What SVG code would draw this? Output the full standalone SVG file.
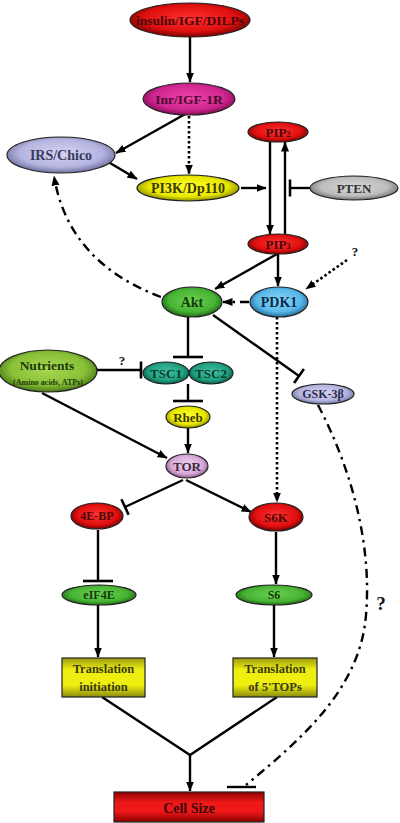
<svg xmlns="http://www.w3.org/2000/svg" width="400" height="823" viewBox="0 0 400 823">
<style>
text{font-family:"Liberation Serif","Times New Roman",serif;font-weight:bold;text-anchor:middle;dominant-baseline:central}
.n{stroke:#222;stroke-width:1.2}
.c{fill:none;stroke:#000;stroke-width:2.4}
.dot{stroke-dasharray:2.6 2.4;stroke-width:2.6}
.dd{stroke-dasharray:9 5 2.5 5}
.q{font-size:13px;fill:#111}
</style>
<defs>
<radialGradient id="gRed" cx="50%" cy="45%" r="55%"><stop offset="0" stop-color="#ff3030"/><stop offset="0.7" stop-color="#e01010"/><stop offset="1" stop-color="#7a0000"/></radialGradient>
<radialGradient id="gMag" cx="50%" cy="45%" r="55%"><stop offset="0" stop-color="#ee40a8"/><stop offset="0.7" stop-color="#d02890"/><stop offset="1" stop-color="#8a0a58"/></radialGradient>
<radialGradient id="gLav" cx="50%" cy="45%" r="55%"><stop offset="0" stop-color="#d4d4f2"/><stop offset="0.7" stop-color="#b4b4e0"/><stop offset="1" stop-color="#7070a0"/></radialGradient>
<radialGradient id="gYel" cx="50%" cy="45%" r="55%"><stop offset="0" stop-color="#ffff30"/><stop offset="0.7" stop-color="#e8e800"/><stop offset="1" stop-color="#8a8a00"/></radialGradient>
<radialGradient id="gGry" cx="50%" cy="45%" r="55%"><stop offset="0" stop-color="#d8d8d8"/><stop offset="0.7" stop-color="#bcbcbc"/><stop offset="1" stop-color="#707070"/></radialGradient>
<radialGradient id="gGrn" cx="50%" cy="45%" r="55%"><stop offset="0" stop-color="#6ad050"/><stop offset="0.7" stop-color="#48b434"/><stop offset="1" stop-color="#1e6a14"/></radialGradient>
<radialGradient id="gLg" cx="50%" cy="45%" r="55%"><stop offset="0" stop-color="#a8d850"/><stop offset="0.7" stop-color="#88c038"/><stop offset="1" stop-color="#4a7a18"/></radialGradient>
<radialGradient id="gBlu" cx="50%" cy="45%" r="55%"><stop offset="0" stop-color="#8ad8f8"/><stop offset="0.7" stop-color="#58b8e8"/><stop offset="1" stop-color="#206a9a"/></radialGradient>
<radialGradient id="gTeal" cx="50%" cy="45%" r="55%"><stop offset="0" stop-color="#40c0a0"/><stop offset="0.7" stop-color="#20a080"/><stop offset="1" stop-color="#085a44"/></radialGradient>
<radialGradient id="gPink" cx="50%" cy="45%" r="55%"><stop offset="0" stop-color="#f0d0f0"/><stop offset="0.7" stop-color="#d8a8d8"/><stop offset="1" stop-color="#8a5a8a"/></radialGradient>
<linearGradient id="bYel" x1="0" y1="0" x2="0" y2="1"><stop offset="0" stop-color="#9a9a10"/><stop offset="0.3" stop-color="#eeee10"/><stop offset="0.7" stop-color="#eeee10"/><stop offset="1" stop-color="#8a8a10"/></linearGradient>
<linearGradient id="bRed" x1="0" y1="0" x2="0" y2="1"><stop offset="0" stop-color="#900000"/><stop offset="0.35" stop-color="#ee1818"/><stop offset="0.65" stop-color="#ee1818"/><stop offset="1" stop-color="#8a0000"/></linearGradient>
<marker id="arr" markerUnits="userSpaceOnUse" markerWidth="10" markerHeight="9" viewBox="0 0 10 9" refX="9.5" refY="4.5" orient="auto"><path d="M0,0.5 L10,4.5 L0,8.5 z" fill="#000"/></marker>
<marker id="barL" markerUnits="userSpaceOnUse" markerWidth="4" markerHeight="32" viewBox="-2 -16 4 32" refX="0" refY="0" orient="auto"><path d="M0,-15 L0,15" stroke="#000" stroke-width="2.6"/></marker>
<marker id="barS" markerUnits="userSpaceOnUse" markerWidth="4" markerHeight="20" viewBox="-2 -10 4 20" refX="0" refY="0" orient="auto"><path d="M0,-8.5 L0,8.5" stroke="#000" stroke-width="2.6"/></marker>
</defs>

<g id="connectors">
<path class="c" d="M190,37 L190,82" marker-end="url(#arr)"/>
<path class="c" d="M187,113 L116,153" marker-end="url(#arr)"/>
<path class="c dot" d="M189,116 L189,174" marker-end="url(#arr)"/>
<path class="c" d="M110,163 L137,179" marker-end="url(#arr)"/>
<path class="c" d="M241,188 L266,188" marker-end="url(#arr)"/>
<path class="c" d="M270,142 L270,234" marker-end="url(#arr)"/>
<path class="c" d="M285,234 L285,142" marker-end="url(#arr)"/>
<path class="c" d="M310,188 L290,188" marker-end="url(#barS)"/>
<path class="c" d="M277,254 L215,289" marker-end="url(#arr)"/>
<path class="c" d="M278,254 L278,286" marker-end="url(#arr)"/>
<path class="c dot" d="M347,260 L306,289" marker-end="url(#arr)"/>
<path class="c dd" d="M249,302 L223,302" marker-end="url(#arr)"/>
<path class="c dd" d="M161,297 Q 68,262 54,176" marker-end="url(#arr)"/>
<path class="c" d="M188,317 L188,357" marker-end="url(#barL)"/>
<path class="c" d="M213,315 L299,376" marker-end="url(#barS)"/>
<path class="c" d="M97,370 L141,370" marker-end="url(#barS)"/>
<path class="c" d="M42,393 L167,458" marker-end="url(#arr)"/>
<path class="c" d="M188,384 L188,401" marker-end="url(#barL)"/>
<path class="c" d="M188,428 L188,453" marker-end="url(#arr)"/>
<path class="c" d="M183,480 L125,507" marker-end="url(#barS)"/>
<path class="c" d="M186,480 L251,512" marker-end="url(#arr)"/>
<path class="c dot" d="M277,317 L277,502" marker-end="url(#arr)"/>
<path class="c dd" d="M318,405 C 352,470 372,545 366,615 C 360,690 300,740 246,785"/>
<path class="c" d="M227,787 L256,787"/>
<path class="c" d="M98,530 L98,581" marker-end="url(#barL)"/>
<path class="c" d="M276,532 L276,584" marker-end="url(#arr)"/>
<path class="c" d="M98,605 L98,657" marker-end="url(#arr)"/>
<path class="c" d="M274,605 L274,657" marker-end="url(#arr)"/>
<path class="c" d="M102,697 L190,755 L277,697"/>
<path class="c" d="M190,755 L190,791" marker-end="url(#arr)"/>
<text class="q" x="355" y="251">?</text>
<text class="q" x="122" y="360">?</text>
<text x="381" y="603" style="font-size:19px;fill:#111">?</text>
</g>

<g id="insulin"><ellipse class="n" cx="190" cy="20" rx="60" ry="17" fill="url(#gRed)"/><text x="190" y="20" style="font-size:13.5px;fill:#4a0808">insulin/IGF/DILPs</text></g>
<g id="inr"><ellipse class="n" cx="189" cy="99" rx="46" ry="16" fill="url(#gMag)"/><text x="189" y="99" style="font-size:13.5px;fill:#4a0a30">Inr/IGF-1R</text></g>
<g id="irs"><ellipse class="n" cx="61" cy="155" rx="54" ry="18" fill="url(#gLav)"/><text x="61" y="155" style="font-size:14px;fill:#3a3a5a">IRS/Chico</text></g>
<g id="pi3k"><ellipse class="n" cx="188" cy="188" rx="51" ry="13" fill="url(#gYel)"/><text x="188" y="188" style="font-size:14px;fill:#3a3a00">PI3K/Dp110</text></g>
<g id="pip2"><ellipse class="n" cx="278" cy="132" rx="30" ry="10" fill="url(#gRed)"/><text x="278" y="132" style="font-size:13px;fill:#4a0808">PIP<tspan font-size="8" dy="2">2</tspan></text></g>
<g id="pten"><ellipse class="n" cx="354" cy="188" rx="44" ry="12" fill="url(#gGry)"/><text x="354" y="188" style="font-size:13px;fill:#333">PTEN</text></g>
<g id="pip3"><ellipse class="n" cx="278" cy="244" rx="30" ry="10" fill="url(#gRed)"/><text x="278" y="244" style="font-size:13px;fill:#4a0808">PIP<tspan font-size="8" dy="2">3</tspan></text></g>
<g id="akt"><ellipse class="n" cx="192" cy="302" rx="30" ry="15" fill="url(#gGrn)"/><text x="192" y="302" style="font-size:14px;fill:#143a0c">Akt</text></g>
<g id="pdk1"><ellipse class="n" cx="279" cy="302" rx="29" ry="15" fill="url(#gBlu)"/><text x="279" y="302" style="font-size:14px;fill:#0a2a4a">PDK1</text></g>
<g id="nutrients"><ellipse class="n" cx="48" cy="371" rx="49" ry="21" fill="url(#gLg)"/><text x="47" y="365" style="font-size:13.5px;fill:#203a0c">Nutrients</text><text x="48" y="382" style="font-size:8px;fill:#203a0c">(Amino acids, ATPs)</text></g>
<g id="tsc1"><ellipse class="n" cx="166" cy="373" rx="23" ry="11" fill="url(#gTeal)"/><text x="166" y="373" style="font-size:13px;fill:#083a2a">TSC1</text></g>
<g id="tsc2"><ellipse class="n" cx="211" cy="373" rx="22" ry="11" fill="url(#gTeal)"/><text x="211" y="373" style="font-size:13px;fill:#083a2a">TSC2</text></g>
<g id="gsk"><ellipse class="n" cx="323" cy="394" rx="31" ry="10" fill="url(#gLav)"/><text x="323" y="394" style="font-size:12px;fill:#2a2a4a">GSK-3β</text></g>
<g id="rheb"><ellipse class="n" cx="188" cy="417" rx="22" ry="11" fill="url(#gYel)"/><text x="188" y="417" style="font-size:13px;fill:#3a3a00">Rheb</text></g>
<g id="tor"><ellipse class="n" cx="187" cy="466" rx="21" ry="12" fill="url(#gPink)"/><text x="187" y="466" style="font-size:13px;fill:#3a2a3a">TOR</text></g>
<g id="4ebp"><ellipse class="n" cx="97" cy="516" rx="26" ry="13" fill="url(#gRed)"/><text x="97" y="516" style="font-size:12px;fill:#4a0808">4E-BP</text></g>
<g id="s6k"><ellipse class="n" cx="276" cy="517" rx="27" ry="14" fill="url(#gRed)"/><text x="276" y="517" style="font-size:13px;fill:#4a0808">S6K</text></g>
<g id="eif4e"><ellipse class="n" cx="99" cy="595" rx="37" ry="10" fill="url(#gGrn)"/><text x="99" y="595" style="font-size:12px;fill:#143a0c">eIF4E</text></g>
<g id="s6"><ellipse class="n" cx="274" cy="595" rx="38" ry="10" fill="url(#gGrn)"/><text x="274" y="595" style="font-size:12px;fill:#143a0c">S6</text></g>
<g id="transinit"><rect class="n" x="62" y="658" width="83" height="39" fill="url(#bYel)"/><text x="103.5" y="669" style="font-size:12.5px;fill:#3a3a10">Translation</text><text x="103.5" y="687" style="font-size:12.5px;fill:#3a3a10">initiation</text></g>
<g id="transtop"><rect class="n" x="233" y="658" width="84" height="39" fill="url(#bYel)"/><text x="275" y="669" style="font-size:12.5px;fill:#3a3a10">Translation</text><text x="275" y="687" style="font-size:12.5px;fill:#3a3a10">of 5'TOPs</text></g>
<g id="cellsize"><rect class="n" x="114" y="792" width="150" height="30" fill="url(#bRed)"/><text x="189" y="808" style="font-size:14px;fill:#3a0808">Cell Size</text></g>
</svg>
